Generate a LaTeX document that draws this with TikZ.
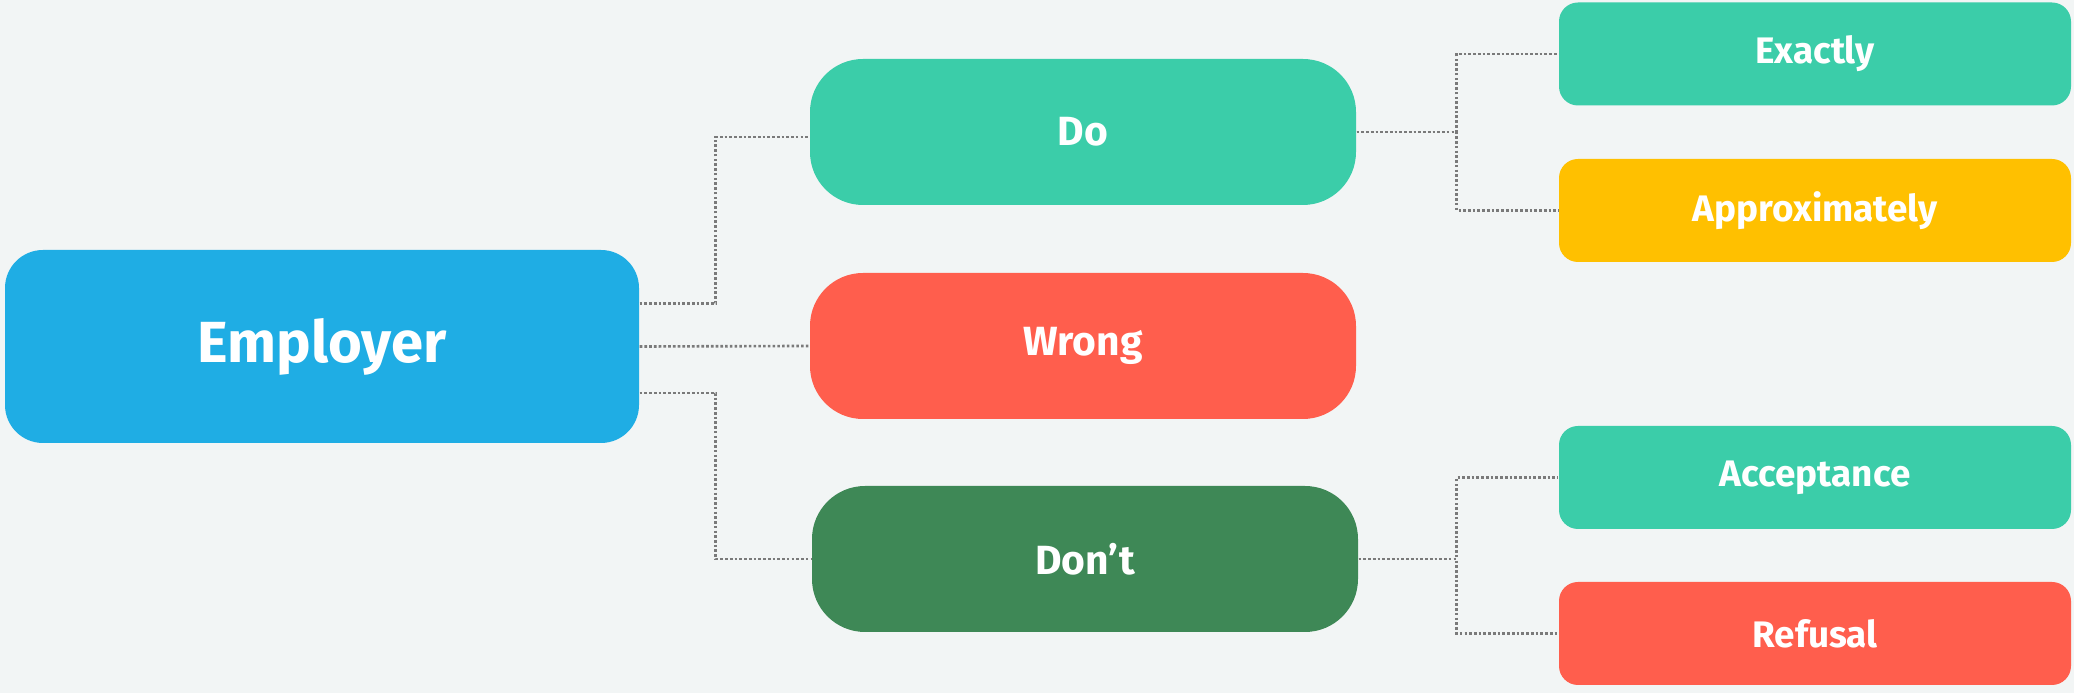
\documentclass[tikz,border=0pt]{standalone}
\usepackage{fontspec}
\setmainfont{Fira Sans}
\definecolor{bgcol}{HTML}{F2F5F5}
\definecolor{empblue}{HTML}{1FADE4}
\definecolor{okteal}{HTML}{3BCDA9}
\definecolor{badred}{HTML}{FF5E4D}
\definecolor{nogreen}{HTML}{3E8856}
\definecolor{nearyellow}{HTML}{FFC000}
\definecolor{linkgray}{HTML}{7A7A7A}

\begin{document}
\begin{tikzpicture}[
		box/.style = {rounded corners=0.53cm, text=white, font=\bfseries\fontsize{11.6}{13}\selectfont,
			minimum width=5.46cm, minimum height=1.46cm, inner sep=0pt},
		rootbox/.style = {box, rounded corners=0.38cm, font=\bfseries\fontsize{16.5}{19}\selectfont,
			minimum width=6.34cm, minimum height=1.93cm},
		leafbox/.style = {box, rounded corners=0.19cm, font=\bfseries\fontsize{10.5}{12}\selectfont,
			minimum width=5.12cm, minimum height=1.03cm},
		link/.style = {linkgray, line width=0.75pt, dash pattern=on 0.75pt off 0.6pt}]
		\fill[bgcol] (0,0) rectangle (20.74,6.93);
		\node[rootbox, fill=empblue] (emp) at (3.22,3.465) {Employer};
		\node[box, fill=okteal] (do) at (10.83,5.61) {Do};
		\node[box, fill=badred] (wrong) at (10.83,3.47) {Wrong};
		\node[box, fill=nogreen] (dont) at (10.85,1.34) {Don’t};
		\node[leafbox, fill=okteal] (exact) at (18.15,6.39) {Exactly};
		\node[leafbox, fill=nearyellow] (approx) at (18.15,4.825) {Approximately};
		\node[leafbox, fill=okteal] (accept) at (18.15,2.155) {Acceptance};
		\node[leafbox, fill=badred] (refuse) at (18.15,0.595) {Refusal};
	% employer to the three answers
		\draw[link] ([yshift=0.43cm]emp.east) -- ++(0.76,0) |- ([yshift=-0.05cm]do.west);
		\draw[link] (emp.east) -- (wrong.west);
		\draw[link] ([yshift=-0.465cm]emp.east) -- ++(0.76,0) |- (dont.west);
	% second level
		\draw[link] (do.east) -- ++(1,0) |- (exact.west);
		\draw[link] (do.east) -- ++(1,0) |- (approx.west);
		\draw[link] (dont.east) -- ++(0.98,0) |- (accept.west);
		\draw[link] (dont.east) -- ++(0.98,0) |- (refuse.west);
\end{tikzpicture}
\end{document}
